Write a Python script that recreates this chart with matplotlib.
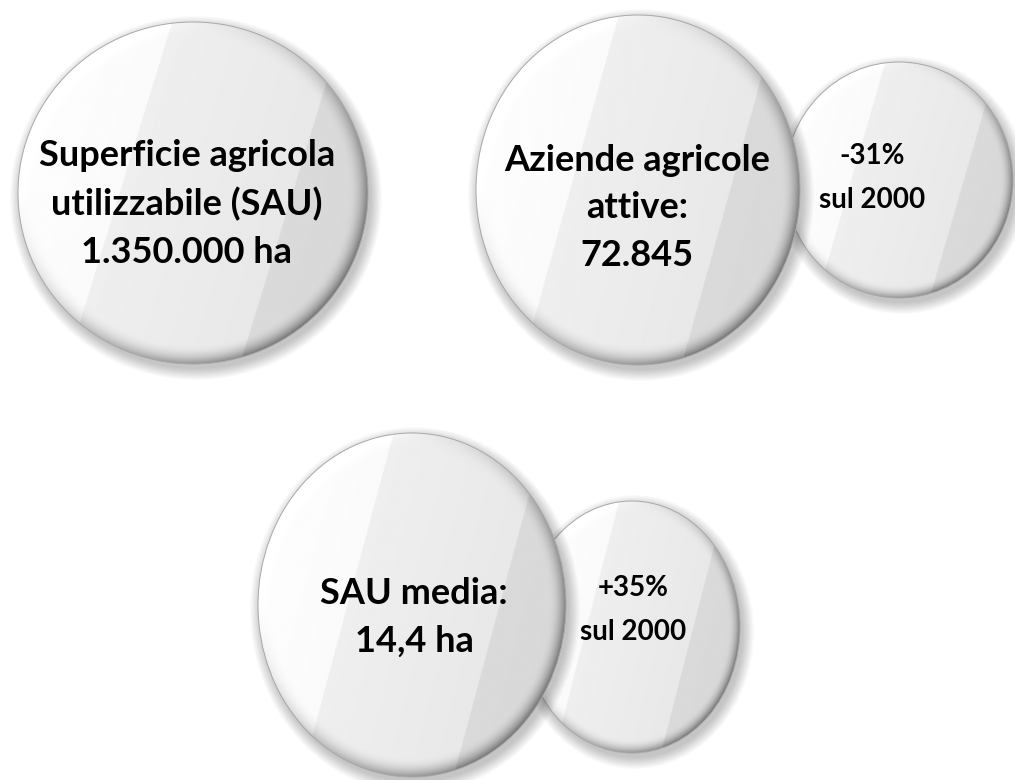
import numpy as np
import matplotlib
matplotlib.use("Agg")
from matplotlib import pyplot as plt
from matplotlib.patches import Ellipse

# text shown on the buttons
main_labels = [
    "Superficie agricola\nutilizzabile (SAU)\n1.350.000 ha",
    "Aziende agricole\nattive:\n72.845",
    "SAU media:\n14,4 ha",
]
change_labels = ["-31%\nsul 2000", "+35%\nsul 2000"]

# layout in pixels (x, y from top-left): centre, half-width, half-height
main_pos = [(193, 193, 175, 171), (638, 190, 162, 175), (412, 605, 154, 172)]
main_text_xy = [(187, 204), (637, 208), (414, 617)]
change_pos = [(899, 180, 114, 118), (632, 627, 108, 126)]
change_text_xy = [(872, 178), (633, 610)]

W, H = 1015, 780
fig = plt.figure(figsize=(W / 100, H / 100), dpi=100)
ax = fig.add_axes([0, 0, 1, 1])
ax.set_xlim(0, W)
ax.set_ylim(H, 0)
ax.axis("off")


def button(cx, cy, rx, ry, z):
    # soft drop shadow
    for i in range(10):
        ax.add_patch(Ellipse((cx + 3, cy + 5), 2 * (rx + i * 1.2), 2 * (ry + i * 1.2),
                             color="black", alpha=0.024, lw=0, zorder=z))
    # shaded face with the diagonal gloss bands
    n = 400
    xs = np.linspace(cx - rx, cx + rx, n)
    ys = np.linspace(cy - ry, cy + ry, n)
    X, Y = np.meshgrid(xs, ys)
    u = (X - cx) / rx
    v = (Y - cy) / ry
    r = np.sqrt(u ** 2 + v ** 2)
    d = u + 0.3 * v
    face = 0.925 - 0.025 * d
    face = np.where(d < -0.42, face + 0.045, face)
    face = np.where(d > 0.57, face - 0.055, face)
    face = np.where(d < -0.75, np.minimum(0.99, face + 0.02), face)
    # bevelled rim, darker towards lower right
    rim = np.clip((r - 0.89) / 0.11, 0, 1)
    dirn = (u + v) / np.maximum(r, 1e-6) / np.sqrt(2)
    face = face - rim ** 2 * (0.16 + 0.24 * dirn)
    face = np.clip(face, 0, 1)
    img = ax.imshow(face, cmap="gray", vmin=0, vmax=1,
                    extent=(cx - rx, cx + rx, cy + ry, cy - ry),
                    interpolation="bilinear", zorder=z + 1)
    clip = Ellipse((cx, cy), 2 * rx, 2 * ry, transform=ax.transData)
    img.set_clip_path(clip)
    ax.add_patch(Ellipse((cx, cy), 2 * rx, 2 * ry, fill=False,
                         ec="#a8a8a8", lw=0.7, zorder=z + 2))


# small buttons sit behind the big ones
for (cx, cy, rx, ry) in change_pos:
    button(cx, cy, rx, ry, 1)
for (cx, cy, rx, ry) in main_pos:
    button(cx, cy, rx, ry, 5)

font = "Lato"
for (tx, ty), lab in zip(main_text_xy, main_labels):
    ax.text(tx, ty, lab, ha="center", va="center", color="black",
            fontsize=26, fontweight="bold", family=font, linespacing=1.55, zorder=10)

for (tx, ty), lab in zip(change_text_xy, change_labels):
    ax.text(tx, ty, lab, ha="center", va="center", color="black",
            fontsize=20, fontweight="bold", family=font, linespacing=1.85, zorder=10)

fig.savefig("out.png", dpi=100)
